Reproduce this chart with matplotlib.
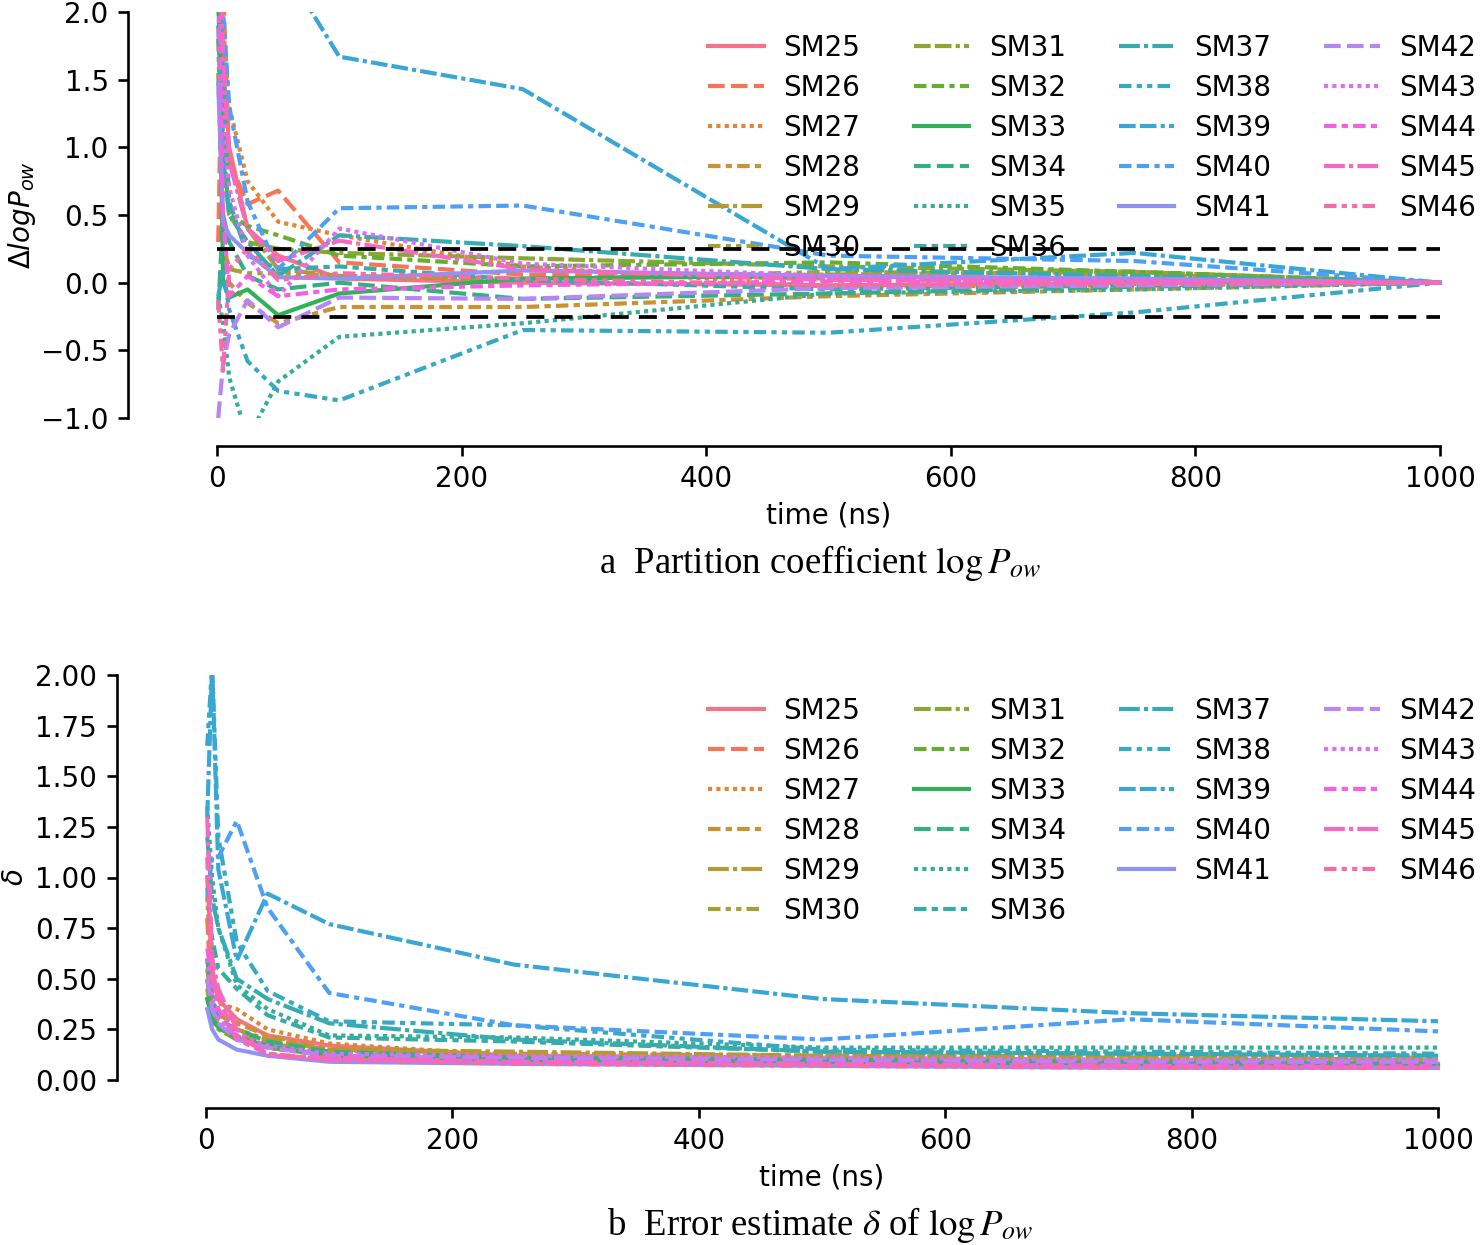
import matplotlib
matplotlib.use("Agg")
import matplotlib.pyplot as plt
import seaborn as sns

# sampling times of the simulations (ns)
time_ns = [1, 5, 10, 25, 50, 100, 250, 500, 750, 1000]
molecules = ["SM%d" % i for i in range(25, 47)]

# delta log Pow relative to the 1000 ns value
sm25_dlogp = [2.5, 1.6, 1.0, 0.40, 0.20, 0.03, 0.00, -0.02, 0.00, 0.0]
sm26_dlogp = [0.3, 2.2, 0.9, 0.58, 0.68, 0.15, 0.06, 0.03, 0.01, 0.0]
sm27_dlogp = [2.6, 1.9, 1.3, 0.75, 0.45, 0.35, 0.12, -0.03, -0.02, 0.0]
sm28_dlogp = [1.55, 0.4, 0.0, -0.15, -0.30, -0.18, -0.18, -0.10, -0.05, 0.0]
sm29_dlogp = [2.3, 1.2, 0.9, 0.40, 0.10, 0.05, 0.03, 0.06, 0.08, 0.0]
sm30_dlogp = [1.8, 0.3, 0.1, 0.07, 0.07, 0.05, 0.02, 0.08, 0.06, 0.0]
sm31_dlogp = [2.1, 0.9, 0.5, 0.30, 0.25, 0.22, 0.18, 0.12, 0.08, 0.0]
sm32_dlogp = [2.4, 1.0, 0.5, 0.42, 0.35, 0.20, 0.12, 0.15, 0.08, 0.0]
sm33_dlogp = [2.3, 0.0, -0.11, -0.05, -0.24, -0.08, 0.03, 0.05, 0.02, 0.0]
sm34_dlogp = [-0.2, 0.5, 0.3, 0.05, -0.05, 0.00, -0.12, -0.08, -0.03, 0.0]
sm35_dlogp = [-0.1, -0.3, -0.7, -1.15, -0.73, -0.40, -0.30, -0.08, -0.05, 0.0]
sm36_dlogp = [2.6, 1.5, 0.6, 0.20, 0.10, 0.12, 0.02, -0.05, -0.02, 0.0]
sm37_dlogp = [1.9, 0.9, 0.5, 0.30, 0.05, 0.35, 0.27, 0.10, 0.05, 0.0]
sm38_dlogp = [-0.1, 0.1, -0.2, -0.58, -0.80, -0.87, -0.35, -0.37, -0.22, 0.0]
sm39_dlogp = [4.0, 3.6, 3.2, 2.80, 2.40, 1.67, 1.43, 0.10, 0.22, 0.0]
sm40_dlogp = [2.6, 2.0, 1.3, 0.60, 0.10, 0.55, 0.57, 0.20, 0.16, 0.0]
sm41_dlogp = [1.47, 0.45, 0.35, 0.22, 0.04, 0.03, 0.09, 0.05, 0.03, 0.0]
sm42_dlogp = [-1.0, -0.6, -0.38, -0.13, -0.33, -0.11, -0.12, -0.04, -0.02, 0.0]
sm43_dlogp = [2.5, 1.2, 0.7, 0.20, -0.10, 0.40, 0.14, 0.05, 0.02, 0.0]
sm44_dlogp = [2.2, 0.5, -0.1, 0.05, -0.10, -0.05, -0.02, 0.01, 0.00, 0.0]
sm45_dlogp = [2.6, 1.7, 0.9, 0.40, 0.16, 0.31, 0.10, 0.02, 0.01, 0.0]
sm46_dlogp = [-0.13, -0.65, 0.1, 0.25, 0.02, 0.07, 0.03, -0.02, -0.01, 0.0]

# error estimate delta
sm25_delta = [1.00, 0.55, 0.40, 0.30, 0.22, 0.17, 0.12, 0.10, 0.09, 0.08]
sm26_delta = [0.80, 0.30, 0.25, 0.25, 0.19, 0.15, 0.11, 0.09, 0.08, 0.07]
sm27_delta = [0.90, 0.45, 0.38, 0.35, 0.25, 0.18, 0.12, 0.10, 0.09, 0.08]
sm28_delta = [0.60, 0.40, 0.32, 0.28, 0.22, 0.15, 0.13, 0.12, 0.12, 0.11]
sm29_delta = [0.55, 0.35, 0.30, 0.25, 0.20, 0.15, 0.14, 0.12, 0.11, 0.10]
sm30_delta = [0.50, 0.32, 0.27, 0.22, 0.18, 0.14, 0.11, 0.10, 0.09, 0.08]
sm31_delta = [0.45, 0.30, 0.25, 0.20, 0.16, 0.12, 0.10, 0.09, 0.08, 0.07]
sm32_delta = [0.50, 0.33, 0.26, 0.20, 0.16, 0.12, 0.10, 0.09, 0.08, 0.07]
sm33_delta = [0.40, 0.30, 0.26, 0.21, 0.17, 0.12, 0.10, 0.09, 0.08, 0.07]
sm34_delta = [0.60, 0.40, 0.30, 0.25, 0.19, 0.14, 0.11, 0.10, 0.09, 0.08]
sm35_delta = [1.35, 1.00, 0.75, 0.47, 0.35, 0.22, 0.21, 0.16, 0.16, 0.16]
sm36_delta = [0.95, 0.70, 0.55, 0.45, 0.32, 0.21, 0.19, 0.14, 0.13, 0.12]
sm37_delta = [1.20, 0.90, 0.75, 0.50, 0.40, 0.28, 0.20, 0.14, 0.13, 0.12]
sm38_delta = [1.65, 2.05, 1.20, 0.68, 0.44, 0.29, 0.27, 0.15, 0.14, 0.13]
sm39_delta = [1.30, 2.05, 1.04, 0.59, 0.92, 0.77, 0.57, 0.40, 0.33, 0.29]
sm40_delta = [0.90, 1.10, 1.10, 1.28, 0.85, 0.43, 0.27, 0.20, 0.30, 0.24]
sm41_delta = [0.35, 0.25, 0.20, 0.15, 0.12, 0.09, 0.08, 0.07, 0.06, 0.06]
sm42_delta = [0.50, 0.35, 0.28, 0.20, 0.16, 0.12, 0.11, 0.10, 0.09, 0.09]
sm43_delta = [0.60, 0.40, 0.30, 0.22, 0.17, 0.13, 0.12, 0.11, 0.10, 0.10]
sm44_delta = [0.65, 0.50, 0.35, 0.20, 0.13, 0.10, 0.09, 0.08, 0.07, 0.07]
sm45_delta = [1.30, 0.60, 0.45, 0.25, 0.12, 0.11, 0.09, 0.08, 0.07, 0.06]
sm46_delta = [1.10, 0.50, 0.40, 0.22, 0.13, 0.10, 0.08, 0.07, 0.06, 0.06]

dlogp = [sm25_dlogp, sm26_dlogp, sm27_dlogp, sm28_dlogp, sm29_dlogp, sm30_dlogp,
         sm31_dlogp, sm32_dlogp, sm33_dlogp, sm34_dlogp, sm35_dlogp, sm36_dlogp,
         sm37_dlogp, sm38_dlogp, sm39_dlogp, sm40_dlogp, sm41_dlogp, sm42_dlogp,
         sm43_dlogp, sm44_dlogp, sm45_dlogp, sm46_dlogp]
delta = [sm25_delta, sm26_delta, sm27_delta, sm28_delta, sm29_delta, sm30_delta,
         sm31_delta, sm32_delta, sm33_delta, sm34_delta, sm35_delta, sm36_delta,
         sm37_delta, sm38_delta, sm39_delta, sm40_delta, sm41_delta, sm42_delta,
         sm43_delta, sm44_delta, sm45_delta, sm46_delta]

# seaborn style dash patterns, repeating every 8 lines
dash_cycle = ["", (4, 1.5), (1, 1), (3, 1.25, 1.5, 1.25), (5, 1, 1, 1),
              (3, 1.25, 1.25, 1.25, 1.25, 1.25), (4, 1, 4, 1, 1, 1),
              (3, 1.25, 3, 1.25, 1.25, 1.25)]
colors = sns.color_palette("husl", len(molecules))
LW = 3.0

plt.rcParams["font.family"] = "DejaVu Sans"
plt.rcParams["font.size"] = 20
plt.rcParams["axes.linewidth"] = 1.9

W, H = 1480, 1245
fig = plt.figure(figsize=(W / 100, H / 100), dpi=100)


def make_axes(x0, x1, ytop, ybot):
    # pixel positions of the data range x: 0..1000, with 5% margins
    ppn = (x1 - x0) / 1000.0
    left = x0 - 50 * ppn
    right = x1 + 50 * ppn
    ax = fig.add_axes([left / W, 1 - ybot / H, (right - left) / W, (ybot - ytop) / H])
    ax.set_xlim(-50, 1050)
    return ax


def style_axes(ax, ylo, yhi, yticks):
    ax.set_ylim(ylo, yhi)
    ax.set_yticks(yticks)
    ax.set_xticks([0, 200, 400, 600, 800, 1000])
    for s in ("top", "right"):
        ax.spines[s].set_visible(False)
    ax.spines["left"].set_position(("outward", 20))
    ax.spines["bottom"].set_position(("outward", 20))
    ax.spines["left"].set_bounds(ylo, yhi)
    ax.spines["bottom"].set_bounds(0, 1000)
    ax.tick_params(length=7, width=1.9, pad=7)
    ax.set_xlabel("time (ns)", labelpad=6)


def draw_lines(ax, series):
    for i, (name, vals) in enumerate(zip(molecules, series)):
        d = dash_cycle[i % len(dash_cycle)]
        if d == "":
            ax.plot(time_ns, vals, color=colors[i], lw=LW, ls="-", label=name)
        else:
            ax.plot(time_ns, vals, color=colors[i], lw=LW, dashes=d, label=name)


def add_legend(ax, ytop):
    ax.legend(ncol=4, frameon=False, loc="upper right",
              bbox_to_anchor=(1476 / W, 1 - (ytop + 22) / H),
              bbox_transform=fig.transFigure, borderpad=0, borderaxespad=0,
              labelspacing=0.43, handlelength=2.0, handletextpad=0.7,
              columnspacing=1.91)


# panel a
ax1 = make_axes(217, 1440, 12, 418)
draw_lines(ax1, dlogp)
for yv in (0.25, -0.25):
    ax1.plot([0, 1000], [yv, yv], color="k", lw=2.7, dashes=(4.8, 2.7), zorder=6)
style_axes(ax1, -1.0, 2.0, [-1.0, -0.5, 0.0, 0.5, 1.0, 1.5, 2.0])
ax1.set_ylabel(r"$\Delta logP_{ow}$", labelpad=2)
add_legend(ax1, 12)

# panel b
ax2 = make_axes(206, 1438, 675, 1080)
draw_lines(ax2, delta)
style_axes(ax2, 0.0, 2.0, [0.0, 0.25, 0.5, 0.75, 1.0, 1.25, 1.5, 1.75, 2.0])
ax2.set_ylabel(r"$\delta$", labelpad=4)
add_legend(ax2, 675)

# captions
fig.text(820 / W, 1 - 563 / H, r"a  Partition coefficient $\log P_{ow}$",
         ha="center", va="center", family="Liberation Serif", fontsize=26.5,
         math_fontfamily="stix")
fig.text(820 / W, 1 - 1225 / H, r"b  Error estimate $\delta$ of $\log P_{ow}$",
         ha="center", va="center", family="Liberation Serif", fontsize=26.5,
         math_fontfamily="stix")

fig.savefig("out.png", dpi=100)
